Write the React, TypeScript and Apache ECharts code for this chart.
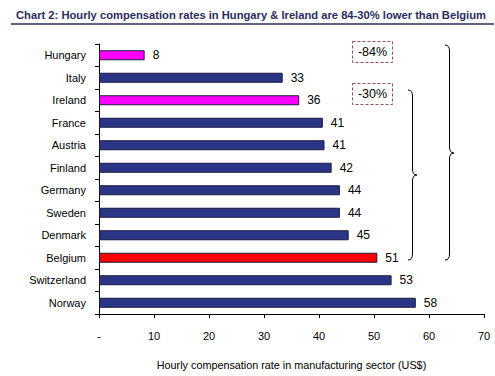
import React, { useEffect, useRef } from "react";
import * as echarts from "echarts";

const categories = ["Hungary", "Italy", "Ireland", "France", "Austria", "Finland", "Germany", "Sweden", "Denmark", "Belgium", "Switzerland", "Norway"];
const values = [8.3, 33.4, 36.4, 40.7, 41.0, 42.3, 43.8, 43.8, 45.4, 50.6, 53.2, 57.6];
const xTicks = [0, 10, 20, 30, 40, 50, 60, 70];
const annotations = ["-84%", "-30%"];
const titleText = "Chart 2: Hourly compensation rates in Hungary & Ireland are 84-30% lower than Belgium";
const axisName = "Hourly compensation rate in manufacturing sector (US$)";

const NAVY = "#2b3585";
const highlight: Record<string, string> = { Hungary: "#ff00ff", Ireland: "#ff00ff", Belgium: "#ff0000" };

function bracePath(x0: number, y0: number, y1: number, ym: number, w: number): string {
  const xm = x0 + w / 2;
  const xt = x0 + w;
  const r = 6;
  return [
    `M${x0} ${y0}`,
    `Q${xm} ${y0} ${xm} ${y0 + r}`,
    `L${xm} ${ym - r}`,
    `Q${xm} ${ym} ${xt} ${ym}`,
    `Q${xm} ${ym} ${xm} ${ym + r}`,
    `L${xm} ${y1 - r}`,
    `Q${xm} ${y1} ${x0} ${y1}`,
  ].join(" ");
}

let registered = false;
function registerShapes() {
  if (registered) return;
  registered = true;
  echarts.graphic.registerShape("braceBig", echarts.graphic.extendPath(bracePath(445, 45, 260, 153, 9) as any, {} as any) as any);
  echarts.graphic.registerShape("braceSmall", echarts.graphic.extendPath(bracePath(408, 90, 260, 175, 9) as any, {} as any) as any);
}

export default function App() {
  const ref = useRef<HTMLDivElement>(null);
  useEffect(() => {
    if (!ref.current) return;
    registerShapes();
    const chart = echarts.init(ref.current, undefined, { renderer: "svg" });
    const font = "Arial, 'Liberation Sans', sans-serif";
    chart.setOption({
      animation: false,
      backgroundColor: "#ffffff",
      textStyle: { fontFamily: font },
      title: {
        text: titleText,
        left: 11,
        top: 4,
        textStyle: { fontSize: 11.2, fontWeight: "bold", color: "#2b2d5c", fontFamily: font },
      },
      grid: { left: 99, right: 11, top: 44, bottom: 62, containLabel: false },
      xAxis: {
        type: "value",
        min: xTicks[0],
        max: xTicks[xTicks.length - 1],
        interval: 10,
        name: axisName,
        nameLocation: "middle",
        nameGap: 45,
        nameTextStyle: { fontSize: 10.8, color: "#000", fontFamily: font },
        axisLine: { show: true, lineStyle: { color: "#000", width: 1 } },
        axisTick: { show: true, length: 4, lineStyle: { color: "#000" } },
        axisLabel: {
          fontSize: 11,
          color: "#000",
          margin: 16,
          formatter: (v: number) => (v === 0 ? "-" : String(v)),
        },
        splitLine: { show: false },
      },
      yAxis: {
        type: "category",
        inverse: true,
        data: categories,
        axisLine: { show: true, lineStyle: { color: "#000", width: 1 } },
        axisTick: { show: true, length: 4, alignWithLabel: false, lineStyle: { color: "#000" } },
        axisLabel: { fontSize: 11, color: "#000", margin: 13 },
      },
      series: [
        {
          type: "bar",
          barWidth: 10,
          data: categories.map((c, i) => ({
            value: values[i],
            itemStyle: { color: highlight[c] || NAVY, borderColor: "#1a1a40", borderWidth: 1 },
          })),
          label: {
            show: true,
            position: "right",
            distance: 8,
            fontSize: 12,
            color: "#000",
            formatter: (p: any) => String(Math.round(p.value)),
          },
        },
      ],
      graphic: [
        { type: "line", shape: { x1: 11, y1: 24, x2: 494, y2: 24 }, style: { stroke: "#2b2d5c", lineWidth: 1.5 } },
        { type: "rect", shape: { x: 352.5, y: 41.5, width: 40, height: 21 }, style: { fill: "none", stroke: "#9a4a5a", lineWidth: 1, lineDash: [3, 2] } },
        { type: "text", x: 372.5, y: 52, style: { text: annotations[0], fontSize: 12.5, fill: "#000", align: "center", verticalAlign: "middle", fontFamily: font } },
        { type: "rect", shape: { x: 352.5, y: 83.5, width: 40, height: 21 }, style: { fill: "none", stroke: "#9a4a5a", lineWidth: 1, lineDash: [3, 2] } },
        { type: "text", x: 372.5, y: 94, style: { text: annotations[1], fontSize: 12.5, fill: "#000", align: "center", verticalAlign: "middle", fontFamily: font } },
        { type: "braceBig", x: 0, y: 0, style: { fill: "none", stroke: "#000", lineWidth: 1 } },
        { type: "braceSmall", x: 0, y: 0, style: { fill: "none", stroke: "#000", lineWidth: 1 } },
      ],
    });
    return () => chart.dispose();
  }, []);
  return <div ref={ref} style={{ position: "absolute", left: 0, top: 0, width: 495, height: 376 }} />;
}
